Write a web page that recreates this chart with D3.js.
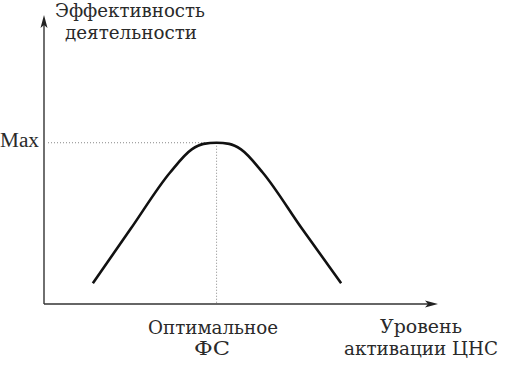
<!DOCTYPE html>
<html>
<head>
<meta charset="utf-8">
<script src="https://cdn.jsdelivr.net/npm/d3@7"></script>
<style>
  html, body { margin: 0; padding: 0; background: #fff; }
  svg { display: block; }
  text { font-family: "DejaVu Serif", "Liberation Serif", serif; fill: #2a2a2a; }
</style>
</head>
<body>
<svg id="chart" width="511" height="366"></svg>
<script>
// Data (abstract units: x = activation level, y = performance)
const curveX = [12.4, 22, 32, 37.5, 40.5, 43.8, 47, 50, 55.5, 65.5, 75.4];
const curveY = [7.2, 26, 45.5, 53.5, 55.4, 55.8, 55.4, 53.5, 45.5, 26, 7.2];
const optimumX = 43.8;
const maxY = 55.8;
const yTickLabel = "Max";
const xTickLabelLines = ["Оптимальное", "ФС"];
const yAxisTitleLines = ["Эффективность", "деятельности"];
const xAxisTitleLines = ["Уровень", "активации ЦНС"];

const svg = d3.select("#chart");
const x = d3.scaleLinear().domain([0, 100]).range([44, 438]);
const y = d3.scaleLinear().domain([0, 100]).range([304, 15]);

// Axes with arrowheads
svg.append("line")
  .attr("x1", x(0)).attr("y1", y(0)).attr("x2", x(0)).attr("y2", y(100) + 10)
  .attr("stroke", "#333").attr("stroke-width", 1.4);
svg.append("line")
  .attr("x1", x(0)).attr("y1", y(0)).attr("x2", x(100) - 10).attr("y2", y(0))
  .attr("stroke", "#333").attr("stroke-width", 1.4);
const ax = x(0), ay = y(100);
svg.append("path")
  .attr("d", `M${ax},${ay} L${ax - 3.5},${ay + 13} L${ax},${ay + 10} L${ax + 3.5},${ay + 13} Z`)
  .attr("fill", "#222");
const bx = x(100), by = y(0);
svg.append("path")
  .attr("d", `M${bx},${by} L${bx - 13},${by - 3.5} L${bx - 10},${by} L${bx - 13},${by + 3.5} Z`)
  .attr("fill", "#222");

// Dotted guide lines
svg.append("line")
  .attr("x1", x(0) + 4).attr("y1", y(maxY)).attr("x2", x(optimumX)).attr("y2", y(maxY))
  .attr("stroke", "#888").attr("stroke-width", 1).attr("stroke-dasharray", "1,2");
svg.append("line")
  .attr("x1", x(optimumX)).attr("y1", y(maxY)).attr("x2", x(optimumX)).attr("y2", y(0) - 1)
  .attr("stroke", "#888").attr("stroke-width", 1).attr("stroke-dasharray", "1,2");

// Curve
const pts = curveX.map((d, i) => [d, curveY[i]]);
const line = d3.line().x(d => x(d[0])).y(d => y(d[1])).curve(d3.curveMonotoneX);
svg.append("path")
  .attr("d", line(pts))
  .attr("fill", "none").attr("stroke", "#111").attr("stroke-width", 2.6);

// Text
function label(txt, cx, baseline, width, anchor, family) {
  const t = svg.append("text")
    .attr("x", cx).attr("y", baseline)
    .attr("text-anchor", anchor || "middle")
    .attr("font-size", 18)
    .attr("textLength", width).attr("lengthAdjust", "spacingAndGlyphs")
    .text(txt);
  if (family) t.style("font-family", family).attr("font-size", 20);
}
label(yTickLabel, 39, y(maxY) + 4, 39, "end", "'Liberation Serif', serif");
label(yAxisTitleLines[0], 130, 17, 150);
label(yAxisTitleLines[1], 131, 39, 132);
label(xTickLabelLines[0], 213, 334, 130);
label(xTickLabelLines[1], 212, 355, 36);
label(xAxisTitleLines[0], 421, 333, 82);
label(xAxisTitleLines[1], 421, 355, 154);
</script>
</body>
</html>
